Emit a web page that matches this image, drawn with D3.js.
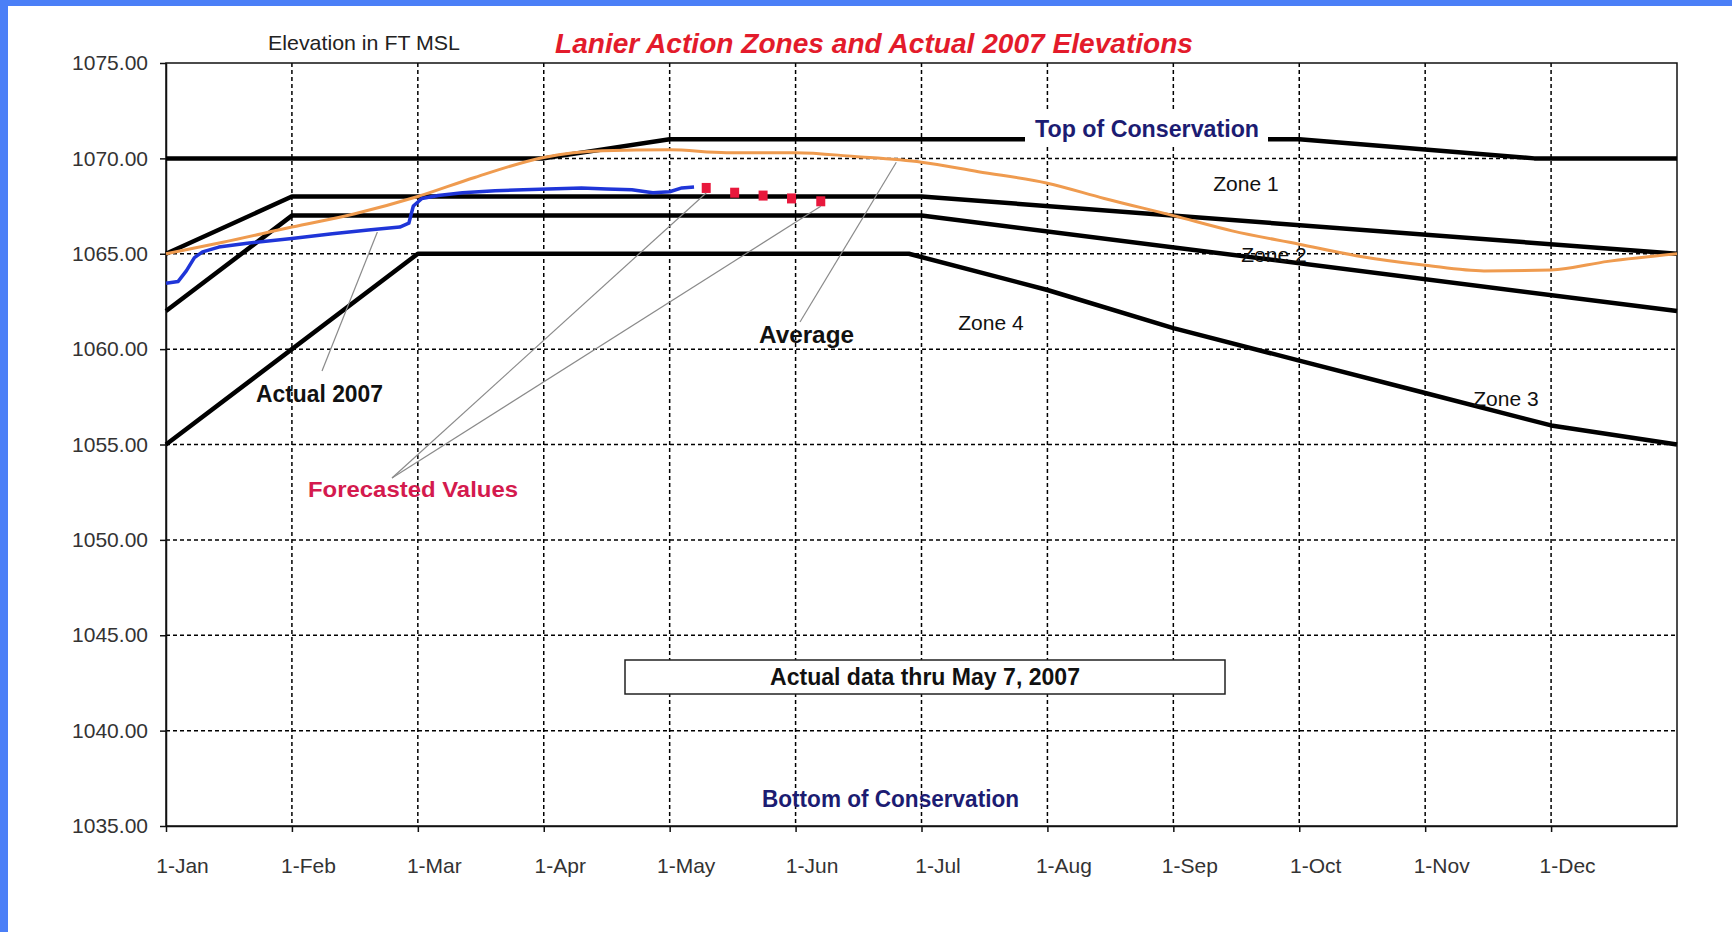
<!DOCTYPE html>
<html>
<head>
<meta charset="utf-8">
<script src="https://cdn.jsdelivr.net/npm/d3@7"></script>
<style>
  body { margin: 0; background: #fff; }
  svg { display: block; }
  text { font-family: "Liberation Sans", Arial, sans-serif; }
</style>
</head>
<body>
<svg id="chart"></svg>
<script>
// month tick labels and y ticks
const monthLabels = ["1-Jan", "1-Feb", "1-Mar", "1-Apr", "1-May", "1-Jun",
                     "1-Jul", "1-Aug", "1-Sep", "1-Oct", "1-Nov", "1-Dec"];
const yTicks = [1035, 1040, 1045, 1050, 1055, 1060, 1065, 1070, 1075];

// action zone boundaries (date, elevation ft)
const topConservation = [["2007-01-01", 1070], ["2007-04-01", 1070], ["2007-05-01", 1071],
                         ["2007-10-01", 1071], ["2007-11-27", 1070], ["2008-01-01", 1070]];
const zone1Bottom = [["2007-01-01", 1065], ["2007-02-01", 1068], ["2007-07-01", 1068], ["2008-01-01", 1065]];
const zone2Bottom = [["2007-01-01", 1062], ["2007-02-01", 1067], ["2007-07-01", 1067], ["2008-01-01", 1062]];
const zone3Bottom = [["2007-01-01", 1055], ["2007-03-01", 1065], ["2007-06-28", 1065], ["2007-08-01", 1063.1],
                     ["2007-09-01", 1061.1], ["2007-10-01", 1059.4], ["2007-11-01", 1057.7],
                     ["2007-12-01", 1056], ["2008-01-01", 1055]];

// average elevation
const average = [["2007-01-01", 1065.0], ["2007-01-15", 1065.6], ["2007-02-01", 1066.4], ["2007-02-15", 1067.1],
                 ["2007-03-01", 1068.0], ["2007-03-15", 1069.0], ["2007-04-01", 1070.05], ["2007-04-15", 1070.4],
                 ["2007-05-01", 1070.45], ["2007-05-15", 1070.3], ["2007-06-01", 1070.3], ["2007-06-15", 1070.1],
                 ["2007-07-01", 1069.8], ["2007-07-15", 1069.3], ["2007-08-01", 1068.7], ["2007-08-15", 1067.9],
                 ["2007-09-01", 1067.0], ["2007-09-15", 1066.2], ["2007-10-01", 1065.5], ["2007-10-15", 1064.9],
                 ["2007-11-01", 1064.4], ["2007-11-15", 1064.1], ["2007-12-01", 1064.15], ["2007-12-15", 1064.6],
                 ["2008-01-01", 1065.0]];

// actual 2007 elevations
const actual2007 = [["2007-01-01", 1063.45], ["2007-01-04", 1063.55], ["2007-01-06", 1064.1], ["2007-01-08", 1064.8],
                    ["2007-01-10", 1065.1], ["2007-01-14", 1065.35], ["2007-01-21", 1065.55], ["2007-02-01", 1065.8],
                    ["2007-02-10", 1066.05], ["2007-02-18", 1066.25], ["2007-02-25", 1066.4], ["2007-02-27", 1066.6],
                    ["2007-02-28", 1067.5], ["2007-03-02", 1067.9], ["2007-03-06", 1068.05], ["2007-03-12", 1068.2],
                    ["2007-03-20", 1068.3], ["2007-03-27", 1068.35], ["2007-04-02", 1068.4], ["2007-04-10", 1068.45],
                    ["2007-04-16", 1068.4], ["2007-04-22", 1068.35], ["2007-04-27", 1068.2], ["2007-05-01", 1068.25],
                    ["2007-05-04", 1068.45], ["2007-05-07", 1068.5]];

// forecasted values
const forecast = [["2007-05-10", 1068.45], ["2007-05-17", 1068.2], ["2007-05-24", 1068.05],
                  ["2007-05-31", 1067.9], ["2007-06-07", 1067.75]];

const W = 1732, H = 932;
const margin = { top: 63, right: 55, bottom: 106, left: 166 },
    width = W - margin.left - margin.right,
    height = H - margin.top - margin.bottom;

const parse = d3.timeParse("%Y-%m-%d");
// position on an axis where every month gets the same width
function monthPos(s) {
  const d = parse(s);
  const m = (d.getFullYear() - 2007) * 12 + d.getMonth();
  const dim = new Date(d.getFullYear(), d.getMonth() + 1, 0).getDate();
  return m + (d.getDate() - 1) / dim;
}

const root = d3.select("#chart").attr("width", W).attr("height", H);

// blue frame of the slide
root.append("rect").attr("x", 0).attr("y", 0).attr("width", W).attr("height", 6).attr("fill", "#4b7ff7");
root.append("rect").attr("x", 0).attr("y", 0).attr("width", 8).attr("height", H).attr("fill", "#4b7ff7");

const svg = root.append("g").attr("transform", `translate(${margin.left},${margin.top})`);

const x = d3.scaleLinear().domain([0, 12]).range([0, width]);
const y = d3.scaleLinear().domain([1035, 1075]).range([height, 0]);

// grid
svg.append("g").selectAll("line")
  .data(yTicks.slice(1, -1))
  .enter().append("line")
    .attr("x1", 0).attr("x2", width)
    .attr("y1", d => y(d)).attr("y2", d => y(d))
    .attr("stroke", "#000").attr("stroke-width", 1.5).attr("stroke-dasharray", "4,3");

svg.append("g").selectAll("line")
  .data(d3.range(1, 12))
  .enter().append("line")
    .attr("x1", d => x(d)).attr("x2", d => x(d))
    .attr("y1", 0).attr("y2", height)
    .attr("stroke", "#000").attr("stroke-width", 1.5).attr("stroke-dasharray", "4,3");

// frame
svg.append("rect")
  .attr("width", width).attr("height", height)
  .attr("fill", "none").attr("stroke", "#111").attr("stroke-width", 1.5);

// Y Axis
const yAxis = svg.append("g")
  .call(d3.axisLeft(y).tickValues(yTicks).tickFormat(d3.format(".2f")).tickSize(6).tickSizeOuter(0).tickPadding(12));
yAxis.selectAll("text").style("font-size", "21px").attr("fill", "#333");
yAxis.selectAll("line, path").attr("stroke", "#111").attr("stroke-width", 1.5);

// X Axis
const xAxis = svg.append("g")
  .attr("transform", `translate(0,${height})`)
  .call(d3.axisBottom(x).tickValues(d3.range(12)).tickFormat(i => monthLabels[i]).tickSize(6).tickSizeOuter(0));
xAxis.selectAll("text").style("font-size", "21px").attr("fill", "#333").attr("y", 32).attr("dx", 16);
xAxis.selectAll("line, path").attr("stroke", "#111").attr("stroke-width", 1.5);

const line = d3.line()
  .x(d => x(monthPos(d[0])))
  .y(d => y(d[1]));

// zone lines
[topConservation, zone1Bottom, zone2Bottom, zone3Bottom].forEach(function(z) {
  svg.append("path")
    .datum(z)
    .attr("d", line)
    .attr("fill", "none")
    .attr("stroke", "#000")
    .attr("stroke-width", 4.5)
    .attr("stroke-linejoin", "round");
});

// average
svg.append("path")
  .datum(average)
  .attr("d", line.curve(d3.curveMonotoneX))
  .attr("fill", "none")
  .attr("stroke", "#ef9b4f")
  .attr("stroke-width", 3);
line.curve(d3.curveLinear);

// actual 2007
svg.append("path")
  .datum(actual2007)
  .attr("d", line)
  .attr("fill", "none")
  .attr("stroke", "#1f35d8")
  .attr("stroke-width", 3.5)
  .attr("stroke-linejoin", "round");

// forecast markers
svg.append("g").selectAll("rect")
  .data(forecast)
  .enter().append("rect")
    .attr("x", d => x(monthPos(d[0])) - 4.5)
    .attr("y", d => y(d[1]) - 5)
    .attr("width", 9)
    .attr("height", 10)
    .attr("fill", "#e8183c");

// leader lines (plot coords)
function leader(x1, y1, x2, y2) {
  svg.append("line")
    .attr("x1", x1).attr("y1", y1).attr("x2", x2).attr("y2", y2)
    .attr("stroke", "#8a8a8a").attr("stroke-width", 1.2);
}
const ox = margin.left, oy = margin.top;
leader(322 - ox, 371 - oy, x(monthPos("2007-02-20")), y(1066.3) + 3);
leader(800 - ox, 322 - oy, x(monthPos("2007-06-25")), y(1069.9) + 2);
const f0 = forecast[0], f4 = forecast[forecast.length - 1];
leader(392 - ox, 478 - oy, x(monthPos(f0[0])), y(f0[1]) + 5);
leader(392 - ox, 478 - oy, x(monthPos(f4[0])), y(f4[1]) + 5);

// texts
function label(txt, px, py, opts) {
  const t = root.append("text")
    .attr("x", px).attr("y", py)
    .attr("text-anchor", opts.anchor || "start")
    .style("font-size", (opts.size || 21) + "px")
    .style("font-weight", opts.bold ? "bold" : "normal")
    .style("font-style", opts.italic ? "italic" : "normal")
    .attr("fill", opts.color || "#111")
    .text(txt);
  if (opts.len) t.attr("textLength", opts.len).attr("lengthAdjust", "spacingAndGlyphs");
  return t;
}

label("Lanier Action Zones and Actual 2007 Elevations", 555, 53,
      { size: 28, bold: true, italic: true, color: "#e31b2b", len: 638 });
label("Elevation in FT MSL", 268, 50, { size: 21, color: "#222", len: 192 });

// white box behind Top of Conservation label
root.append("rect").attr("x", 1025).attr("y", 110).attr("width", 243).attr("height", 37).attr("fill", "#fff");
label("Top of Conservation", 1035, 137, { size: 23, bold: true, color: "#1c1c72", len: 224 });
label("Bottom of Conservation", 762, 807, { size: 23, bold: true, color: "#1c1c72", len: 257 });

label("Zone 1", 1246, 191, { anchor: "middle" });
label("Zone 2", 1274, 262, { anchor: "middle" });
label("Zone 4", 991, 330, { anchor: "middle" });
label("Zone 3", 1506, 406, { anchor: "middle" });

label("Actual 2007", 256, 402, { size: 23, bold: true, len: 127 });
label("Average", 759, 343, { size: 23, bold: true, len: 95 });
label("Forecasted Values", 308, 497, { size: 22, bold: true, color: "#d41a4e", len: 210 });

// note box
root.append("rect").attr("x", 625).attr("y", 660).attr("width", 600).attr("height", 34)
  .attr("fill", "#fff").attr("stroke", "#222").attr("stroke-width", 1.5);
label("Actual data thru May 7, 2007", 770, 685, { size: 23, bold: true, len: 310 });
</script>
</body>
</html>
